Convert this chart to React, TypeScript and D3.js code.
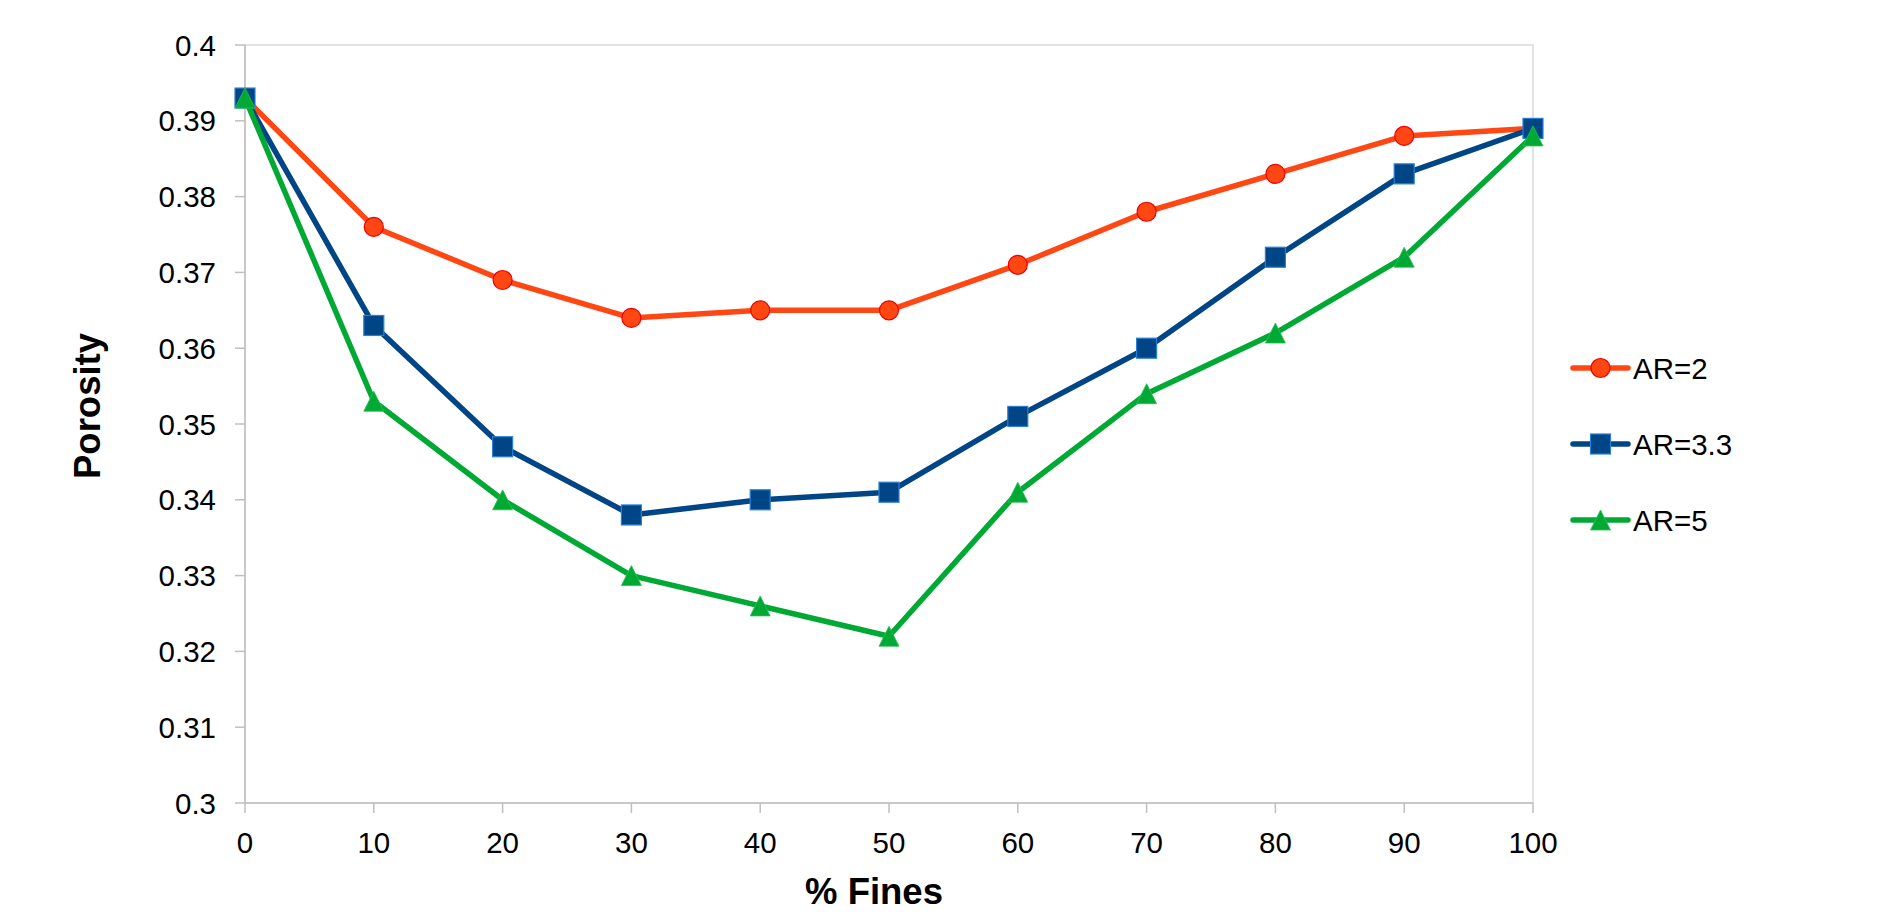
import React from "react";
import * as d3 from "d3";

const xValues = [0, 10, 20, 30, 40, 50, 60, 70, 80, 90, 100];
const ar2 = [0.393, 0.376, 0.369, 0.364, 0.365, 0.365, 0.371, 0.378, 0.383, 0.388, 0.389];
const ar33 = [0.393, 0.363, 0.347, 0.338, 0.34, 0.341, 0.351, 0.36, 0.372, 0.383, 0.389];
const ar5 = [0.393, 0.353, 0.34, 0.33, 0.326, 0.322, 0.341, 0.354, 0.362, 0.372, 0.388];
const yTicks = [0.3, 0.31, 0.32, 0.33, 0.34, 0.35, 0.36, 0.37, 0.38, 0.39, 0.4];
const seriesNames = ["AR=2", "AR=3.3", "AR=5"];

const W = 1889, H = 912;
const L = 245, R = 1533, T = 45, B = 803;
const FONT = "'Liberation Sans', Arial, sans-serif";

const series = [
  { name: seriesNames[0], values: ar2, color: "#FF4713", fill: "#FF4713", stroke: "#F00000", shape: "circle" },
  { name: seriesNames[1], values: ar33, color: "#004586", fill: "#004586", stroke: "#2A7FD4", shape: "square" },
  { name: seriesNames[2], values: ar5, color: "#00A933", fill: "#00A933", stroke: "#2BBF55", shape: "triangle" },
];

function Marker({ shape, x, y, fill, stroke }: any) {
  if (shape === "circle") return <circle cx={x} cy={y} r={9.5} fill={fill} stroke={stroke} strokeWidth={1.2} />;
  if (shape === "square") return <rect x={x - 10} y={y - 10} width={20} height={20} fill={fill} stroke={stroke} strokeWidth={1.2} />;
  return <path d={`M${x},${y - 10} L${x + 10},${y + 10} L${x - 10},${y + 10} Z`} fill={fill} stroke={stroke} strokeWidth={0.8} />;
}

export default function App() {
  const x = d3.scaleLinear().domain([0, 100]).range([L, R]);
  const y = d3.scaleLinear().domain([0.3, 0.4]).range([B, T]);
  const line = d3.line<number>().x((_, i) => x(xValues[i])).y((d) => y(d));
  const legendX = 1573, legendYs = [368, 444, 520];
  return (
    <svg width={W} height={H} style={{ position: "absolute", left: 0, top: 0, background: "#fff" }} fontFamily={FONT}>
      <rect x={L} y={T} width={R - L} height={B - T} fill="none" stroke="#d9d9d9" strokeWidth={1.5} />
      <line x1={L} x2={L} y1={T} y2={B} stroke="#bfbfbf" strokeWidth={1.5} />
      <line x1={L} x2={R} y1={B} y2={B} stroke="#bfbfbf" strokeWidth={1.5} />
      {yTicks.map((t) => (
        <g key={t}>
          <line x1={L - 10} x2={L} y1={y(t)} y2={y(t)} stroke="#bfbfbf" strokeWidth={1.5} />
          <text x={216} y={y(t)} dy="0.36em" textAnchor="end" fontSize={29.5} fill="#000">{String(t)}</text>
        </g>
      ))}
      {xValues.map((t) => (
        <g key={t}>
          <line x1={x(t)} x2={x(t)} y1={B} y2={B + 10} stroke="#bfbfbf" strokeWidth={1.5} />
          <text x={x(t)} y={853} textAnchor="middle" fontSize={29.5} fill="#000">{t}</text>
        </g>
      ))}
      <text x={874} y={904} textAnchor="middle" fontSize={36.5} fontWeight="bold">% Fines</text>
      <text transform={`translate(100,406) rotate(-90)`} textAnchor="middle" fontSize={36.5} fontWeight="bold">Porosity</text>
      {series.map((s) => (
        <g key={s.name}>
          <path d={line(s.values) || ""} fill="none" stroke={s.color} strokeWidth={5.5} strokeLinejoin="round" />
          {s.values.map((v, i) => (
            <Marker key={i} shape={s.shape} x={x(xValues[i])} y={y(v)} fill={s.fill} stroke={s.stroke} />
          ))}
        </g>
      ))}
      {series.map((s, i) => (
        <g key={s.name}>
          <line x1={legendX} x2={legendX + 55} y1={legendYs[i]} y2={legendYs[i]} stroke={s.color} strokeWidth={5.5} strokeLinecap="round" />
          <Marker shape={s.shape} x={legendX + 27.5} y={legendYs[i]} fill={s.fill} stroke={s.stroke} />
          <text x={legendX + 60} y={legendYs[i]} dy="0.36em" fontSize={29.5}>{s.name}</text>
        </g>
      ))}
    </svg>
  );
}
